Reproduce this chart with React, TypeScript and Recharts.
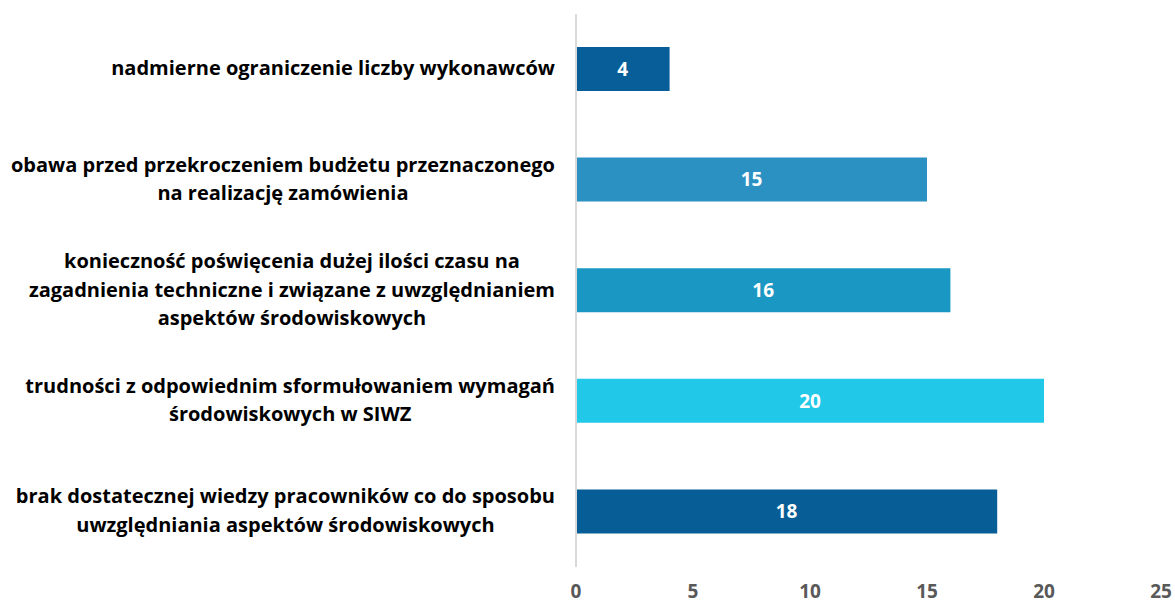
import { BarChart, Bar, XAxis, YAxis, Cell, LabelList } from "recharts";

/* ================= DATA ================= */
const categories = [
  "nadmierne ograniczenie liczby wykonawców",
  "obawa przed przekroczeniem budżetu przeznaczonego\nna realizację zamówienia",
  "konieczność poświęcenia dużej ilości czasu na\nzagadnienia techniczne i związane z uwzględnianiem\naspektów środowiskowych",
  "trudności z odpowiednim sformułowaniem wymagań\nśrodowiskowych w SIWZ",
  "brak dostatecznej wiedzy pracowników co do sposobu\nuwzględniania aspektów środowiskowych",
];
const values = [4, 15, 16, 20, 18];
const barColors = ["#085e98", "#2b91c3", "#1a98c3", "#22c8e8", "#075e96"];
const xTicks = [0, 5, 10, 15, 20, 25];

const data = categories.map((name, i) => ({ name, value: values[i] }));

const FONT = "'Open Sans', sans-serif";
const LABEL_SIZE = 20;

// measure text so multi-line labels are centered inside a right-aligned block
let ctx: CanvasRenderingContext2D | null = null;
function textWidth(s: string) {
  if (!ctx) ctx = document.createElement("canvas").getContext("2d");
  if (!ctx) return s.length * 10;
  ctx.font = `700 ${LABEL_SIZE}px ${FONT}`;
  return ctx.measureText(s).width;
}

/* ================= TICKS ================= */
function CategoryTick({ y, payload }: any) {
  const lines: string[] = String(payload.value).split("\n");
  const lineH = 28.5;
  const startY = y - 2 - ((lines.length - 1) * lineH) / 2;
  const maxW = Math.max(...lines.map(textWidth));
  const cx = 555 - maxW / 2;
  return (
    <text
      x={cx}
      y={startY}
      textAnchor="middle"
      dominantBaseline="central"
      fill="#000000"
      fontSize={LABEL_SIZE}
      fontWeight={700}
      fontFamily={FONT}
    >
      {lines.map((line, i) => (
        <tspan key={i} x={cx} y={startY + i * lineH}>
          {line}
        </tspan>
      ))}
    </text>
  );
}

/* ================= COMPONENT ================= */
export default function App() {
  return (
    <div style={{ position: "absolute", left: 0, top: 0, width: 1175, height: 604 }}>
      <BarChart
        width={1175}
        height={604}
        data={data}
        layout="vertical"
        margin={{ top: 14, right: 14, left: 0, bottom: 0 }}
      >
        <XAxis
          type="number"
          domain={[0, 25]}
          ticks={xTicks}
          axisLine={false}
          tickLine={false}
          height={37}
          tickMargin={12}
          tick={{ fill: "#595959", fontSize: 19, fontWeight: 700, fontFamily: FONT }}
        />
        <YAxis
          type="category"
          dataKey="name"
          width={576}
          axisLine={{ stroke: "#d9d9d9", strokeWidth: 2 }}
          tickLine={false}
          tick={<CategoryTick />}
          interval={0}
        />
        <Bar dataKey="value" barSize={44} isAnimationActive={false}>
          {data.map((_, i) => (
            <Cell key={i} fill={barColors[i]} />
          ))}
          <LabelList
            dataKey="value"
            position="center"
            fill="#ffffff"
            fontSize={19}
            fontWeight={700}
            fontFamily={FONT}
          />
        </Bar>
      </BarChart>
    </div>
  );
}
